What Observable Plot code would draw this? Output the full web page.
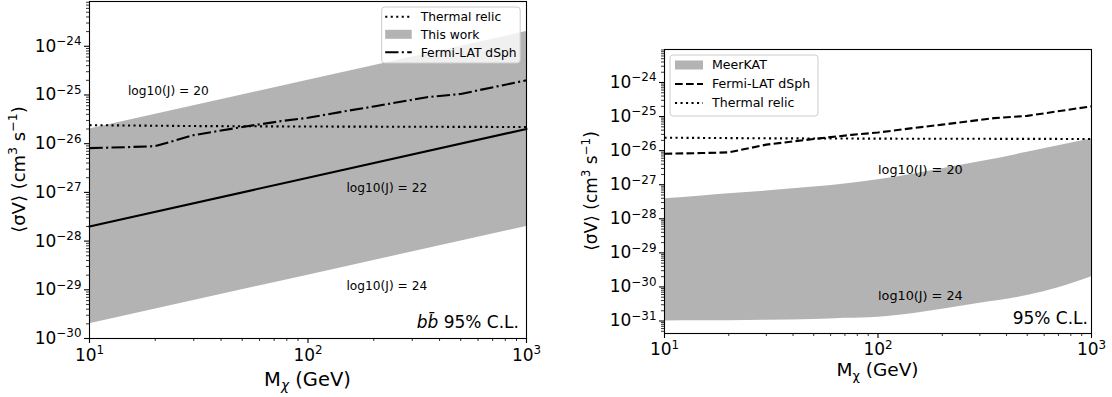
<!DOCTYPE html>
<html><head><meta charset="utf-8">
<script src="https://cdn.jsdelivr.net/npm/d3@7"></script>
<script src="https://cdn.jsdelivr.net/npm/@observablehq/plot@0.6"></script>
<style>
body{margin:0;background:#fff;}
#wrap{display:flex;width:1112px;height:397px;background:#fff;}
#wrap svg{display:block;flex:none;}
</style></head><body><div id="wrap"></div>
<script>
// ---------- data ----------
const massGrid = [10, 100, 1000];                        // GeV
const thisWorkLow = [2e-30, 2e-29, 2e-28];               // log10(J)=24
const thisWorkHigh = [2e-26, 2e-25, 2e-24];              // log10(J)=20
const thisWorkJ22 = [2e-28, 2e-27, 2e-26];               // log10(J)=22

const fermiMass = [10, 15, 20, 30, 50, 75, 100, 150, 200, 350, 500, 1000];
const fermiSV = [8.1e-27, 8.5e-27, 8.9e-27, 1.5e-26, 2.2e-26, 2.9e-26, 3.4e-26, 4.7e-26, 5.8e-26, 9.0e-26, 1.05e-25, 2.0e-25];

const relicMass = [10, 30, 100, 1000];
const relicSV = [2.4e-26, 2.3e-26, 2.25e-26, 2.2e-26];

const meerMass = [10, 15, 20, 30, 50, 70, 100, 150, 200, 300, 500, 700, 1000];
const meerLow = [1.0e-31, 1.01e-31, 1.02e-31, 1.05e-31, 1.1e-31, 1.2e-31, 1.3e-31, 1.7e-31, 2.2e-31, 3.3e-31, 5.6e-31, 9.5e-31, 2.0e-30];
const meerHigh = [3.9e-28, 4.7e-28, 5.4e-28, 6.5e-28, 8.5e-28, 1.05e-27, 1.4e-27, 2.1e-27, 2.95e-27, 4.7e-27, 8.9e-27, 1.4e-26, 2.2e-26];

const annotLeft = [
  {m: 15, sv: 1e-25, label: "log10(J) = 20"},
  {m: 150, sv: 1e-27, label: "log10(J) = 22"},
  {m: 150, sv: 1e-29, label: "log10(J) = 24"}
];
const annotRight = [
  {m: 100, sv: 2e-27, label: "log10(J) = 20"},
  {m: 100, sv: 4e-31, label: "log10(J) = 24"}
];

const xMajor = [10, 100, 1000];
const yMajorLeft = [1e-30, 1e-29, 1e-28, 1e-27, 1e-26, 1e-25, 1e-24];
const yMajorRight = [1e-31, 1e-30, 1e-29, 1e-28, 1e-27, 1e-26, 1e-25, 1e-24];
const yDomainLeft = [1e-30, 8.3e-24];
const yDomainRight = [4.3e-32, 9.3e-24];

// ---------- helpers ----------
function minors(lo, hi) {
  const out = [];
  for (let e = Math.floor(Math.log10(lo)); e <= Math.ceil(Math.log10(hi)); e++)
    for (let k = 2; k <= 9; k++) { const v = k * Math.pow(10, e); if (v >= lo * 0.999 && v <= hi * 1.001) out.push(v); }
  return out;
}
function expLabel(v) {
  const e = Math.round(Math.log10(v));
  return "10|" + (e < 0 ? "\u2212" + (-e) : String(e));
}
function supify(svg) {
  d3.select(svg).selectAll("text").each(function () {
    const m = /^10\|(.+)$/.exec(this.textContent);
    if (!m) return;
    this.textContent = "10";
    d3.select(this).append("tspan").attr("font-size", "0.7em").attr("dy", "-0.55em").text(m[1]);
  });
}
const rows = (xs, ...cols) => xs.map((x, i) => ({m: x, a: cols[0] ? cols[0][i] : null, b: cols[1] ? cols[1][i] : null}));

const dotted = "2.1,3.4", dashed = "7.7,3.3", dashdot = "13.3,3.3,2.1,3.3";
const LW = 2.1;
const baseStyle = {fontFamily: "DejaVu Sans", fontSize: "17px", color: "black", background: "white", overflow: "visible"};

function axes(yMajor, yDomain, pad) {
  return [
    Plot.axisX({ticks: xMajor, tickSize: 5, tickPadding: pad, tickFormat: expLabel, fontSize: 17, strokeWidth: 1.1}),
    Plot.axisX({ticks: minors(10, 1000), tickSize: 3, tickFormat: () => "", strokeWidth: 0.8}),
    Plot.axisY({ticks: yMajor, tickSize: 5, tickPadding: 3, tickFormat: expLabel, fontSize: 17, strokeWidth: 1.1}),
    Plot.axisY({ticks: minors(yDomain[0], yDomain[1]), tickSize: 3, tickFormat: () => "", strokeWidth: 0.8})
  ];
}

// ---------- left panel ----------
const L = {w: 556, h: 397, ml: 89, mr: 30, mt: 1, mb: 59};
const left = Plot.plot({
  width: L.w, height: L.h, marginLeft: L.ml, marginRight: L.mr, marginTop: L.mt, marginBottom: L.mb,
  style: baseStyle,
  x: {type: "log", domain: [10, 1000], label: null},
  y: {type: "log", domain: yDomainLeft, label: null},
  marks: [
    Plot.areaY(rows(massGrid, thisWorkLow, thisWorkHigh), {x: "m", y1: "a", y2: "b", fill: "#b3b3b3"}),
    Plot.line(rows(relicMass, relicSV), {x: "m", y: "a", stroke: "black", strokeWidth: LW, strokeDasharray: dotted, strokeLinecap: "butt"}),
    Plot.line(rows(fermiMass, fermiSV), {x: "m", y: "a", stroke: "black", strokeWidth: LW, strokeDasharray: dashdot, strokeLinecap: "butt"}),
    Plot.line(rows(massGrid, thisWorkJ22), {x: "m", y: "a", stroke: "black", strokeWidth: LW}),
    Plot.text(annotLeft, {x: "m", y: "sv", text: "label", textAnchor: "start", lineAnchor: "bottom", fontSize: 12.2, fill: "black"}),
    ...axes(yMajorLeft, yDomainLeft, 5),
    Plot.frame({stroke: "black", strokeWidth: 1.1})
  ]
});

// ---------- right panel ----------
const R = {w: 556, h: 397, ml: 108, mr: 21, mt: 49, mb: 64};
const right = Plot.plot({
  width: R.w, height: R.h, marginLeft: R.ml, marginRight: R.mr, marginTop: R.mt, marginBottom: R.mb,
  style: baseStyle,
  x: {type: "log", domain: [10, 1000], label: null},
  y: {type: "log", domain: yDomainRight, label: null},
  marks: [
    Plot.areaY(rows(meerMass, meerLow, meerHigh), {x: "m", y1: "a", y2: "b", fill: "#b3b3b3", curve: "monotone-x"}),
    Plot.line(rows(fermiMass, fermiSV), {x: "m", y: "a", stroke: "black", strokeWidth: LW, strokeDasharray: dashed, strokeLinecap: "butt"}),
    Plot.line(rows(relicMass, relicSV), {x: "m", y: "a", stroke: "black", strokeWidth: LW, strokeDasharray: dotted, strokeLinecap: "butt"}),
    Plot.text(annotRight, {x: "m", y: "sv", text: "label", textAnchor: "start", lineAnchor: "bottom", fontSize: 12.8, fill: "black"}),
    ...axes(yMajorRight, yDomainRight, 4.5),
    Plot.frame({stroke: "black", strokeWidth: 1.1})
  ]
});

const wrap = document.getElementById("wrap");
wrap.appendChild(left);
wrap.appendChild(right);
supify(left); supify(right);

// ---------- titles, corner notes, legends ----------
function addTitles(svg, P, o) {
  const s = d3.select(svg);
  const fx0 = P.ml, fx1 = P.w - P.mr, fy0 = P.mt, fy1 = P.h - P.mb;
  const xt = s.append("text").attr("x", (fx0 + fx1) / 2).attr("y", fy1 + o.xTitleOff)
    .attr("text-anchor", "middle").attr("font-size", o.titleSize).attr("fill", "black");
  xt.append("tspan").text("M");
  xt.append("tspan").attr("font-size", "0.7em").attr("dy", "0.3em").attr("font-style", o.chiItalic ? "italic" : "normal").text("\u03C7");
  xt.append("tspan").attr("dy", "-0.21em").text(" (GeV)");
  const yt = s.append("text").attr("transform", `translate(${o.yTitleX},${(fy0 + fy1) / 2}) rotate(-90)`)
    .attr("text-anchor", "middle").attr("font-size", o.yTitleSize).attr("fill", "black");
  yt.append("tspan").text("\u27E8\u03C3V\u27E9 (cm");
  yt.append("tspan").attr("font-size", "0.7em").attr("dy", "-0.6em").text("3");
  yt.append("tspan").attr("dy", "0.42em").text(" s");
  yt.append("tspan").attr("font-size", "0.7em").attr("dy", "-0.6em").text("\u22121");
  yt.append("tspan").attr("dy", "0.42em").text(")");
  const cn = s.append("text").attr("x", fx1 - o.noteDx).attr("y", fy1 - o.noteDy)
    .attr("text-anchor", "end").attr("font-size", 17).attr("fill", "black");
  if (o.bb) cn.append("tspan").attr("font-style", "italic").text("bb\u0304 ");
  cn.append("tspan").text("95% C.L.");
}
function addLegend(svg, g) {
  const s = d3.select(svg).append("g").attr("text-anchor", "start");
  s.append("rect").attr("x", g.x).attr("y", g.y).attr("width", g.w).attr("height", g.h).attr("rx", 3)
    .attr("fill", "white").attr("fill-opacity", 0.8).attr("stroke", "#cccccc").attr("stroke-width", 1);
  g.items.forEach((it, i) => {
    const cy = g.y + g.rows[i];
    if (it.type === "patch") {
      s.append("rect").attr("x", g.x + g.h0).attr("y", cy - 4.5).attr("width", g.h1 - g.h0).attr("height", 9).attr("fill", "#b3b3b3");
    } else {
      s.append("line").attr("x1", g.x + g.h0).attr("x2", g.x + g.h1).attr("y1", cy).attr("y2", cy)
        .attr("stroke", "black").attr("stroke-width", LW).attr("stroke-dasharray", it.dash).attr("stroke-linecap", "butt");
    }
    s.append("text").attr("x", g.x + g.tx).attr("y", cy).attr("dy", "0.35em").attr("text-anchor", "start")
      .attr("font-size", g.fs).attr("fill", "black").text(it.label);
  });
}

addTitles(left, L, {xTitleOff: 48, titleSize: 19.5, yTitleSize: 18, chiItalic: true, yTitleX: 25, noteDx: 7, noteDy: 10, bb: true});
addTitles(right, R, {xTitleOff: 43, titleSize: 18.5, yTitleSize: 17, chiItalic: false, yTitleX: 597 - 556, noteDx: 3, noteDy: 9.5, bb: false});

addLegend(left, {x: L.w - L.mr - 144.3, y: L.mt + 6, w: 138.5, h: 56, rows: [9.7, 27.3, 45.3], h0: 3.5, h1: 30, tx: 39, fs: 12.3,
  items: [{label: "Thermal relic", dash: dotted}, {label: "This work", type: "patch"}, {label: "Fermi-LAT dSph", dash: dashdot}]});
addLegend(right, {x: R.ml + 6, y: R.mt + 6, w: 148, h: 61, rows: [10, 29, 48], h0: 5, h1: 33, tx: 42, fs: 12.6,
  items: [{label: "MeerKAT", type: "patch"}, {label: "Fermi-LAT dSph", dash: dashed}, {label: "Thermal relic", dash: dotted}]});
</script>
</body></html>
